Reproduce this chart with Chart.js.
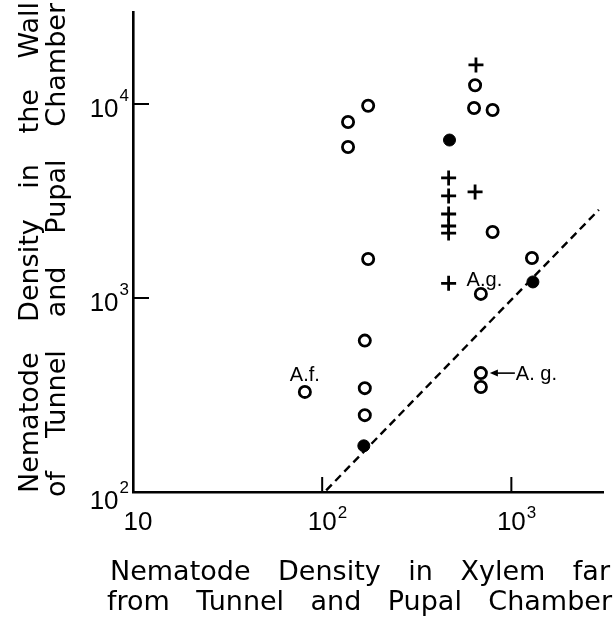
<!DOCTYPE html>
<html>
<head>
<meta charset="utf-8">
<script src="https://cdn.jsdelivr.net/npm/chart.js@4"></script>
<style>
  body { margin: 0; background: #fff; }
  canvas { display: block; }
</style>
</head>
<body>
<canvas id="nematode_chart" width="614" height="617"></canvas>
<script>
// Nematode density: wall of tunnel / pupal chamber vs xylem far from them (log-log)

const x_min = 10
const x_max = 3077
const y_min = 100
const y_max = 29800

const x_tick_values = [10, 100, 1000]
const x_tick_sup = ['', '2', '3']
const y_tick_values = [100, 1000, 10000]
const y_tick_sup = ['2', '3', '4']

// open circles
const open_x = [175, 137, 137, 175, 168, 168, 168, 81, 643, 635, 796, 796, 690, 1285, 690, 690]
const open_y = [9800, 8070, 6000, 1590, 603, 343, 249, 328, 12500, 9530, 9310, 2190, 1050, 1607, 410, 348]
// filled circles
const filled_x = [471, 1300, 166]
const filled_y = [6520, 1210, 173]
// crosses
const cross_x = [650, 466, 466, 643, 466, 466, 466, 466]
const cross_y = [15900, 4160, 3360, 3520, 2710, 2350, 2160, 1190]
// dashed reference line
const line_x = [105, 2900]
const line_y = [102, 2850]

// annotations next to points
const annot_text = ['A.f.', 'A.g.', 'A. g.']
const annot_x = [81, 466, 690]
const annot_y = [328, 1190, 410]

const x_title_lines = ['Nematode Density in Xylem far', 'from Tunnel and Pupal Chamber']
const y_title_lines = ['Nematode Density in the Wall', 'of Tunnel and Pupal Chamber']

const to_points = (xs, ys) => xs.map((x, i) => ({x: x, y: ys[i]}))

const FONT = '"Liberation Sans", Arial, sans-serif'
const TITLE_FONT = '"DejaVu Sans", sans-serif'

// draws words spread over a given width
function draw_justified(ctx, text, width) {
  const words = text.split(' ')
  const widths = words.map(w => ctx.measureText(w).width)
  const total = widths.reduce((a, b) => a + b, 0)
  const gap = (width - total) / (words.length - 1)
  let pos = 0
  words.forEach((w, i) => {
    ctx.fillText(w, pos, 0)
    pos += widths[i] + gap
  })
}

const decorations = {
  id: 'decorations',
  afterDraw(chart) {
    const ctx = chart.ctx
    const xs = chart.scales.x
    const ys = chart.scales.y
    const area = chart.chartArea
    ctx.save()
    ctx.fillStyle = '#000'
    ctx.strokeStyle = '#000'

    // inward tick marks
    ctx.lineWidth = 2
    ctx.beginPath()
    xs.ticks.forEach(t => {
      const px = xs.getPixelForValue(t.value)
      if (px > area.left + 2) { ctx.moveTo(px, area.bottom); ctx.lineTo(px, area.bottom - 15) }
    })
    ys.ticks.forEach(t => {
      const py = ys.getPixelForValue(t.value)
      if (py < area.bottom - 2) { ctx.moveTo(area.left, py); ctx.lineTo(area.left + 16, py) }
    })
    ctx.stroke()

    // tick labels 10^n
    ctx.textBaseline = 'alphabetic'
    xs.ticks.forEach((t, i) => {
      const px = xs.getPixelForValue(t.value)
      ctx.font = '26px ' + FONT
      const w = ctx.measureText('10').width
      const left = (i === 0 ? px + 5 : px) - w / 2
      ctx.textAlign = 'left'
      ctx.fillText('10', left, area.bottom + 38)
      if (x_tick_sup[i]) {
        ctx.font = '17px ' + FONT
        ctx.fillText(x_tick_sup[i], left + w + 1, area.bottom + 26)
      }
    })
    y_tick_values.forEach((v, i) => {
      const py = ys.getPixelForValue(v)
      ctx.font = '17px ' + FONT
      const sw = ctx.measureText(y_tick_sup[i]).width
      ctx.textAlign = 'right'
      ctx.fillText(y_tick_sup[i], area.left - 4, py - 3 + (i === 0 ? 4 : 0))
      ctx.font = '26px ' + FONT
      ctx.fillText('10', area.left - 5 - sw, py + 13 + (i === 0 ? 4 : 0))
    })

    // annotations
    ctx.font = '20px ' + FONT
    ctx.textAlign = 'left'
    annot_text.forEach((txt, i) => {
      const px = xs.getPixelForValue(annot_x[i])
      const py = ys.getPixelForValue(annot_y[i])
      if (i === 0) {
        ctx.textAlign = 'center'
        ctx.fillText(txt, px, py - 11)
        ctx.textAlign = 'left'
      } else if (i === 1) {
        ctx.fillText(txt, px + 18, py + 3)
      } else {
        // arrow pointing to the pair of circles
        ctx.lineWidth = 1.6
        ctx.beginPath()
        ctx.moveTo(px + 14, py)
        ctx.lineTo(px + 34, py)
        ctx.stroke()
        ctx.beginPath()
        ctx.moveTo(px + 9, py)
        ctx.lineTo(px + 17, py - 3.5)
        ctx.lineTo(px + 17, py + 3.5)
        ctx.closePath()
        ctx.fill()
        ctx.fillText(txt, px + 35, py + 7)
      }
    })

    // axis titles
    ctx.textAlign = 'left'
    ctx.font = '27px ' + TITLE_FONT
    ctx.save(); ctx.translate(110, 580); draw_justified(ctx, x_title_lines[0], 500); ctx.restore()
    ctx.save(); ctx.translate(107, 610); draw_justified(ctx, x_title_lines[1], 505); ctx.restore()

    ctx.save(); ctx.translate(38, 493); ctx.rotate(-Math.PI / 2); draw_justified(ctx, y_title_lines[0], 491); ctx.restore()
    ctx.save(); ctx.translate(65, 497); ctx.rotate(-Math.PI / 2); draw_justified(ctx, y_title_lines[1], 494); ctx.restore()

    ctx.restore()
  }
}

const ctx = document.getElementById('nematode_chart').getContext('2d')

const nematode_chart = new Chart(ctx, {
  type: 'scatter',
  data: {
    datasets: [
      {
        type: 'line',
        data: to_points(line_x, line_y),
        borderColor: '#000',
        borderWidth: 2.4,
        borderDash: [8, 5],
        pointRadius: 0,
        fill: false,
        order: 10
      },
      {
        data: to_points(open_x, open_y),
        pointStyle: 'circle',
        pointRadius: 5.6,
        borderWidth: 2.8,
        borderColor: '#000',
        backgroundColor: '#fff',
        order: 1
      },
      {
        data: to_points(filled_x, filled_y),
        pointStyle: 'circle',
        pointRadius: 6,
        borderWidth: 1,
        borderColor: '#000',
        backgroundColor: '#000',
        order: 1
      },
      {
        data: to_points(cross_x, cross_y),
        pointStyle: 'cross',
        pointRadius: 7.5,
        borderWidth: 2.8,
        borderColor: '#000',
        order: 1
      }
    ]
  },
  options: {
    responsive: false,
    animation: false,
    layout: { padding: { top: 12, right: 2, left: 0, bottom: 0 } },
    plugins: {
      legend: { display: false },
      tooltip: { enabled: false },
      title: { display: false }
    },
    scales: {
      x: {
        type: 'logarithmic',
        min: x_min,
        max: x_max,
        grid: { display: false },
        border: { display: true, color: '#000', width: 2.6 },
        ticks: { display: false },
        afterBuildTicks: s => { s.ticks = x_tick_values.map(v => ({value: v})) },
        afterFit: s => { s.height = 125 }
      },
      y: {
        type: 'logarithmic',
        min: y_min,
        max: y_max,
        grid: { display: false },
        border: { display: true, color: '#000', width: 2.6 },
        ticks: { display: false },
        afterBuildTicks: s => { s.ticks = y_tick_values.map(v => ({value: v})) },
        afterFit: s => { s.width = 133 }
      }
    }
  },
  plugins: [decorations]
})
</script>
</body>
</html>
